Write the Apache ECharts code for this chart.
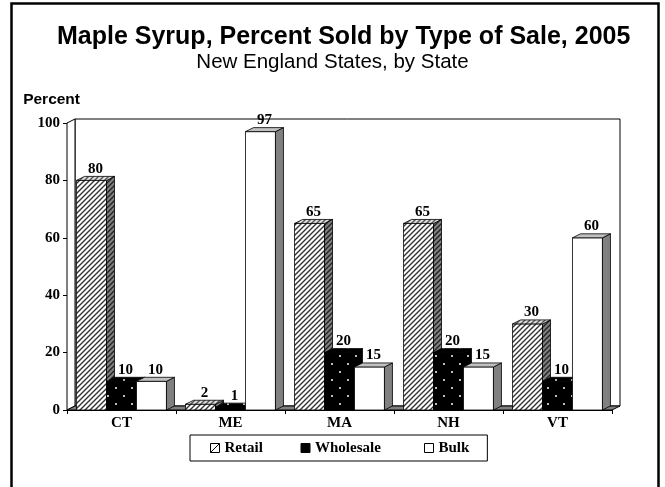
<!DOCTYPE html>
<html><head><meta charset="utf-8">
<script src="https://cdn.jsdelivr.net/npm/echarts@6/dist/echarts.min.js"></script>
<style>html,body{margin:0;padding:0;background:#fff}#c{width:665px;height:487px}</style>
</head><body><div id="c"></div>
<script>
const categories = ['CT', 'ME', 'MA', 'NH', 'VT'];
const retail = [80, 2, 65, 65, 30];
const wholesale = [10, 1, 20, 20, 10];
const bulk = [10, 97, 15, 15, 60];
const seriesNames = ['Retail', 'Wholesale', 'Bulk'];
const yMin = 0, yMax = 100, yStep = 20;

function makeCanvas(w, h, draw) { const c = document.createElement('canvas'); c.width = w; c.height = h; draw(c.getContext('2d')); return c; }
function hatch(bg, fg) {
  return { image: makeCanvas(5, 5, g => {
    g.fillStyle = bg; g.fillRect(0, 0, 5, 5);
    g.strokeStyle = fg; g.lineWidth = 1.4; g.beginPath();
    g.moveTo(-1, 6); g.lineTo(6, -1); g.moveTo(-1, 1); g.lineTo(1, -1); g.moveTo(4, 6); g.lineTo(6, 4);
    g.stroke();
  }), repeat: 'repeat' };
}
function dots(bg) {
  return { image: makeCanvas(16, 16, g => {
    g.fillStyle = bg; g.fillRect(0, 0, 16, 16);
    g.fillStyle = '#fff';
    g.beginPath(); g.arc(4, 4, 1, 0, Math.PI * 2); g.fill();
    g.beginPath(); g.arc(12, 12, 1, 0, Math.PI * 2); g.fill();
  }), repeat: 'repeat' };
}
const faces = [
  { front: hatch('#ffffff', '#333'), side: hatch('#808080', '#222'), top: hatch('#dddddd', '#555') },
  { front: dots('#000'), side: dots('#000'), top: dots('#000') },
  { front: '#ffffff', side: '#808080', top: '#c0c0c0' }
];
const DX = 8, DY = -4, FRAC = 0.275;

function barRender(k) {
  return function (params, api) {
    const idx = api.value(0), v = api.value(1);
    const b = api.coord([idx, 0]), t = api.coord([idx, v]);
    const cw = api.size([1, 0])[0];
    const bw = cw * FRAC;
    const x0 = b[0] - 1.5 * bw + k * bw, x1 = x0 + bw, yb = b[1], yt = t[1];
    const f = faces[k];
    const st = fill => ({ fill: fill, stroke: '#000', lineWidth: 0.8 });
    return { type: 'group', children: [
      { type: 'polygon', shape: { points: [[x0, yb], [x1, yb], [x1, yt], [x0, yt]] }, style: st(f.front) },
      { type: 'polygon', shape: { points: [[x1, yb], [x1 + DX, yb + DY], [x1 + DX, yt + DY], [x1, yt]] }, style: st(f.side) },
      { type: 'polygon', shape: { points: [[x0, yt], [x1, yt], [x1 + DX, yt + DY], [x0 + DX, yt + DY]] }, style: st(f.top) },
      { type: 'text', z2: 100, style: { text: String(v), x: (x0 + x1) / 2 + DX / 2, y: yt + DY, align: 'center', verticalAlign: 'bottom', font: 'bold 15px "Liberation Serif"', fill: '#000' } }
    ] };
  };
}
function wallRender(params, api) {
  const cs = params.coordSys;
  const L = cs.x, R = cs.x + cs.width, T = cs.y, B = cs.y + cs.height;
  const s = fill => ({ fill: fill, stroke: '#000', lineWidth: 1 });
  return { type: 'group', children: [
    { type: 'polygon', shape: { points: [[L + DX, B + DY], [L + DX, T + DY], [R + DX, T + DY], [R + DX, B + DY]] }, style: s('#fff') },
    { type: 'polygon', shape: { points: [[L, B], [L, T], [L + DX, T + DY], [L + DX, B + DY]] }, style: s('#fff') },
    { type: 'polygon', shape: { points: [[L, B], [R, B], [R + DX, B + DY], [L + DX, B + DY]] }, style: s('#808080') }
  ] };
}
const valueLists = [retail, wholesale, bulk];
const barSeries = seriesNames.map((name, k) => ({
  type: 'custom', name: name, renderItem: barRender(k), z: 3,
  encode: { x: 0, y: 1 },
  data: categories.map((c, i) => [c, valueLists[k][i]])
}));

const serif = 'Liberation Serif', sans = 'Liberation Sans';
const chart = echarts.init(document.getElementById('c'), null, { renderer: 'canvas' });
chart.setOption({
  animation: false,
  backgroundColor: '#fff',
  title: [{
    text: 'Maple Syrup, Percent Sold by Type of Sale, 2005',
    left: 52, top: 20,
    textStyle: { fontFamily: sans, fontWeight: 'bold', fontSize: 25, color: '#000' }
  }, {
    text: 'New England States, by State',
    left: 'center', top: 47,
    textStyle: { fontFamily: sans, fontWeight: 'normal', fontSize: 20.5, color: '#000' }
  }],
  graphic: [{ type: 'rect', shape: { x: 11.5, y: 3.5, width: 647, height: 520 }, style: { fill: 'none', stroke: '#000', lineWidth: 2.5 }, silent: true }],
  legend: {
    left: 190, top: 435, itemGap: 0, itemWidth: 9, itemHeight: 9,
    padding: [5, 18, 5, 20], borderColor: '#000', borderWidth: 1,
    textStyle: { fontFamily: serif, fontWeight: 'bold', fontSize: 15, color: '#000', lineHeight: 16 },
    data: [
      { name: 'Retail', icon: 'path://M0,0L10,0L10,10L0,10Z M0,10L10,0', itemStyle: { color: '#fff', borderColor: '#000', borderWidth: 1 }, textStyle: { width: 76 } },
      { name: 'Wholesale', icon: 'rect', itemStyle: { color: '#000', borderColor: '#000', borderWidth: 1 }, textStyle: { width: 109 } },
      { name: 'Bulk', icon: 'rect', itemStyle: { color: '#fff', borderColor: '#000', borderWidth: 1 } }
    ]
  },
  grid: { left: 67, right: 53, top: 123, bottom: 77 },
  xAxis: {
    type: 'category', data: categories, boundaryGap: true,
    axisLine: { lineStyle: { color: '#000', width: 1 } },
    axisTick: { show: true, length: 4, lineStyle: { color: '#000' } },
    axisLabel: { margin: 6, fontFamily: serif, fontWeight: 'bold', fontSize: 15, color: '#000' },
    splitLine: { show: false }
  },
  yAxis: {
    type: 'value', min: yMin, max: yMax, interval: yStep,
    name: 'Percent', nameLocation: 'end', nameGap: 15,
    nameTextStyle: { fontFamily: sans, fontWeight: 'bold', fontSize: 15.5, color: '#000', align: 'right', padding: [0, -13, 0, 0] },
    axisLine: { show: true, lineStyle: { color: '#000', width: 1 } },
    axisTick: { show: true, length: 4, lineStyle: { color: '#000' } },
    axisLabel: { margin: 7, fontFamily: serif, fontWeight: 'bold', fontSize: 15, color: '#000' },
    splitLine: { show: false }
  },
  series: [{ type: 'custom', name: 'wall', renderItem: wallRender, z: 1, silent: true, encode: { x: 0, y: 1 }, data: [[categories[0], yMin]] }].concat(barSeries)
});
</script></body></html>
